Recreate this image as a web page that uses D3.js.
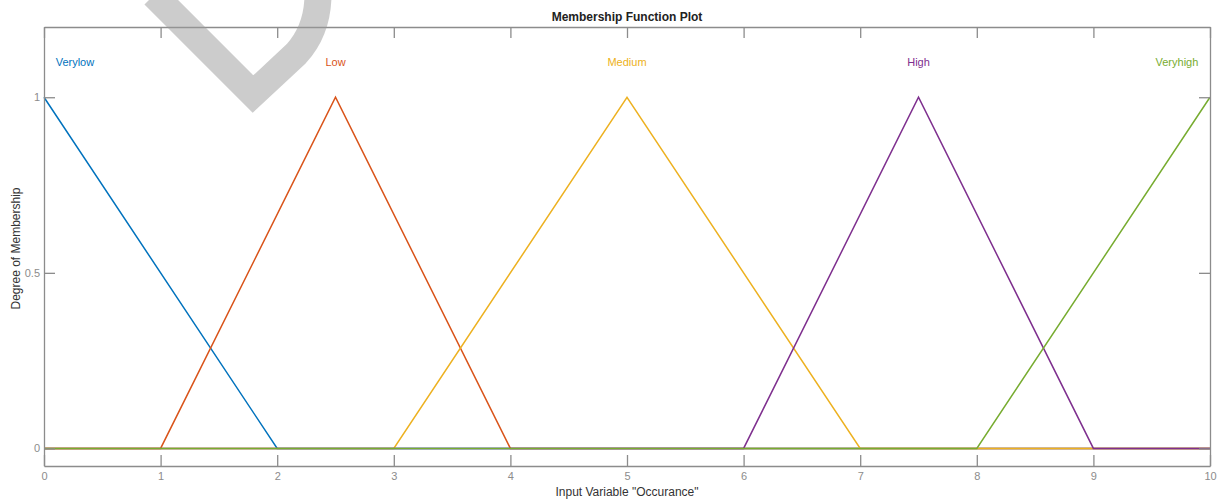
<!DOCTYPE html>
<html>
<head>
<meta charset="utf-8">
<script src="https://cdn.jsdelivr.net/npm/d3@7"></script>
<style>
  html, body { margin: 0; padding: 0; background: #fff; }
  svg { display: block; font-family: "Liberation Sans", Arial, sans-serif; }
</style>
</head>
<body>
<svg id="chart" width="1222" height="500"></svg>
<script>
// ---- data ----
const mfNames = ["Verylow", "Low", "Medium", "High", "Veryhigh"];
const mfColors = ["#0072BD", "#D95319", "#EDB120", "#7E2F8E", "#77AC30"];
const verylowX = [0, 2, 10];
const verylowY = [1, 0, 0];
const lowX = [0, 1, 2.5, 4, 10];
const lowY = [0, 0, 1, 0, 0];
const mediumX = [0, 3, 5, 7, 10];
const mediumY = [0, 0, 1, 0, 0];
const highX = [0, 6, 7.5, 9, 10];
const highY = [0, 0, 1, 0, 0];
const veryhighX = [0, 8, 10];
const veryhighY = [0, 0, 1];
const labelX = [0.1, 2.5, 5, 7.5, 9.9];
const labelAnchor = ["start", "middle", "middle", "middle", "end"];
const xTicks = [0, 1, 2, 3, 4, 5, 6, 7, 8, 9, 10];
const yTicks = [0, 0.5, 1];

const seriesX = [verylowX, lowX, mediumX, highX, veryhighX];
const seriesY = [verylowY, lowY, mediumY, highY, veryhighY];

// ---- layout ----
(function () {
const svg = d3.select("#chart");
const pLeft = 44, pRight = 1210, pTop = 27, pBottom = 466;
const x = d3.scaleLinear().domain([0, 10]).range([pLeft, pRight]);
const y = d3.scaleLinear().domain([-0.05, 1.2]).range([pBottom, pTop]);
const axisColor = "#8c8c8c";
const tickLen = 11;

// series lines
const line = d3.line().x(d => x(d[0])).y(d => y(d[1]));
seriesX.forEach((xs, i) => {
  const pts = xs.map((v, j) => [v, seriesY[i][j]]);
  svg.append("path")
    .attr("d", line(pts))
    .attr("fill", "none")
    .attr("stroke", mfColors[i])
    .attr("stroke-width", 1.5);
});

// MF labels
mfNames.forEach((n, i) => {
  svg.append("text")
    .attr("x", x(labelX[i]))
    .attr("y", y(1.1) + 4)
    .attr("text-anchor", labelAnchor[i])
    .attr("font-size", 11)
    .attr("fill", mfColors[i])
    .text(n);
});

// axes (box with inward ticks)
const gB = svg.append("g").attr("transform", `translate(0,${pBottom})`)
  .call(d3.axisBottom(x).tickValues(xTicks).tickFormat(d3.format("d")).tickSize(-tickLen).tickSizeOuter(0).tickPadding(6));
const gT = svg.append("g").attr("transform", `translate(0,${pTop})`)
  .call(d3.axisTop(x).tickValues(xTicks).tickFormat("").tickSize(-tickLen).tickSizeOuter(0));
const gL = svg.append("g").attr("transform", `translate(${pLeft},0)`)
  .call(d3.axisLeft(y).tickValues(yTicks).tickFormat(d => d === 0.5 ? "0.5" : d3.format("d")(d)).tickSize(-tickLen).tickSizeOuter(0).tickPadding(4));
const gR = svg.append("g").attr("transform", `translate(${pRight},0)`)
  .call(d3.axisRight(y).tickValues(yTicks).tickFormat("").tickSize(-tickLen).tickSizeOuter(0));

[gB, gT, gL, gR].forEach(g => {
  g.select(".domain").attr("stroke", axisColor).attr("stroke-width", 1.3);
  g.selectAll(".tick line").attr("stroke", axisColor).attr("stroke-width", 1.3);
  g.selectAll(".tick text").attr("fill", "#8c8c8c").attr("font-size", 11)
    .attr("font-family", "Liberation Sans, Arial, sans-serif");
});

// title and axis labels
svg.append("text").attr("x", 627).attr("y", 21).attr("text-anchor", "middle")
  .attr("font-size", 12).attr("font-weight", "bold").attr("fill", "#222")
  .text("Membership Function Plot");
svg.append("text").attr("x", 627).attr("y", 496).attr("text-anchor", "middle")
  .attr("font-size", 12).attr("fill", "#333")
  .text("Input Variable \"Occurance\"");
svg.append("text").attr("transform", `translate(20,${(pTop + pBottom) / 2 + 2}) rotate(-90)`)
  .attr("text-anchor", "middle").attr("font-size", 12).attr("fill", "#333")
  .text("Degree of Membership");

// decorative watermark stroke (top-left, translucent)
svg.append("path")
  .attr("d", "M 154,-5 L 253,94 L 296,54 Q 318,30 318,-6")
  .attr("fill", "none")
  .attr("stroke", "#9a9a9a")
  .attr("stroke-opacity", 0.5)
  .attr("stroke-width", 27)
  .attr("stroke-linejoin", "miter");
})();
</script>
</body>
</html>
